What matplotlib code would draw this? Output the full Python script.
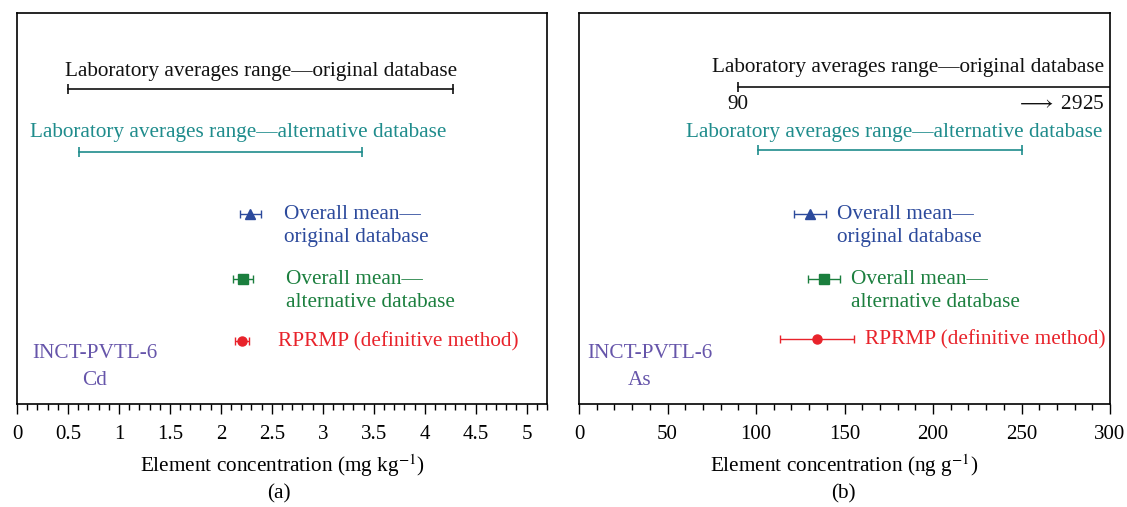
import numpy as np
import matplotlib
matplotlib.use("Agg")
import matplotlib.pyplot as plt
from matplotlib.ticker import MultipleLocator

plt.rcParams['font.family'] = ['Liberation Serif', 'DejaVu Serif']
plt.rcParams['mathtext.fontset'] = 'stix'

# panel (a) Cd, mg/kg
cd_orig_range = [0.50, 4.28]
cd_alt_range = [0.61, 3.38]
cd_mean_orig, cd_mean_orig_err = 2.29, 0.105
cd_mean_alt, cd_mean_alt_err = 2.22, 0.10
cd_rprmp, cd_rprmp_err = 2.21, 0.07

# panel (b) As, ng/g
as_orig_range = [90, 2925]
as_alt_range = [101, 250]
as_mean_orig, as_mean_orig_err = 130.5, 9.0
as_mean_alt, as_mean_alt_err = 138.5, 9.0
as_rprmp, as_rprmp_err = 134.5, 21.0

# row heights (axes runs 0..10)
rows = {"orig": 8.05, "alt": 6.45, "mo": 4.85, "ma": 3.2, "rp": 1.6}

c_black = "#111111"
c_teal = "#1f8c8c"
c_blue = "#2c4a9c"
c_green = "#1b7f3e"
c_red = "#e8232b"
c_purple = "#6655aa"
fs = 15.3

fig = plt.figure(figsize=(11.27, 5.07), dpi=100)
ax1 = fig.add_axes([17/1127, 1-404/507, 530/1127, 391/507])
ax2 = fig.add_axes([579/1127, 1-404/507, 531/1127, 391/507])

for ax in (ax1, ax2):
    ax.set_ylim(0, 10)
    ax.set_yticks([])
    for s in ax.spines.values():
        s.set_linewidth(1.2)
    ax.tick_params(axis='x', which='major', length=7, width=1, labelsize=15, pad=8)
    ax.tick_params(axis='x', which='minor', length=4, width=1)

# ---- panel a
ax1.set_xlim(0, 5.2)
ax1.xaxis.set_minor_locator(MultipleLocator(0.1))
ticks = np.arange(0, 5.01, 0.5)
ax1.set_xticks(ticks)
ax1.set_xticklabels(["%g" % t for t in ticks])

ax1.plot(cd_orig_range, [rows["orig"]]*2, color=c_black, lw=1.2, marker='|', ms=7, mew=1.2)
ax1.text(np.mean(cd_orig_range), rows["orig"]+0.45, "Laboratory averages range—original database",
         color=c_black, fontsize=fs, ha='center', va='center')
ax1.plot(cd_alt_range, [rows["alt"]]*2, color=c_teal, lw=1.2, marker='|', ms=7, mew=1.2)
ax1.text(2.17, rows["alt"]+0.5, "Laboratory averages range—alternative database",
         color=c_teal, fontsize=fs, ha='center', va='center')

ax1.errorbar(cd_mean_orig, rows["mo"], xerr=cd_mean_orig_err, fmt='^', color=c_blue, ms=7, capsize=3, lw=1)
ax1.text(2.62, rows["mo"]-0.3, "Overall mean—\noriginal database", color=c_blue, fontsize=fs,
         ha='left', va='center', linespacing=1.3)
ax1.errorbar(cd_mean_alt, rows["ma"], xerr=cd_mean_alt_err, fmt='s', color=c_green, ms=6.5, capsize=3, lw=1)
ax1.text(2.64, rows["ma"]-0.3, "Overall mean—\nalternative database", color=c_green, fontsize=fs,
         ha='left', va='center', linespacing=1.3)
ax1.errorbar(cd_rprmp, rows["rp"], xerr=cd_rprmp_err, fmt='o', color=c_red, ms=6.5, capsize=3, lw=1)
ax1.text(2.56, rows["rp"], "RPRMP (definitive method)", color=c_red, fontsize=fs, ha='left', va='center')

ax1.text(0.76, 1.28, "INCT-PVTL-6", color=c_purple, fontsize=fs, ha='center', va='center')
ax1.text(0.76, 0.59, "Cd", color=c_purple, fontsize=fs, ha='center', va='center')
ax1.set_xlabel(r"Element concentration (mg kg$^{-1}$)", fontsize=fs, labelpad=6)
fig.text(279/1127, 1-494/507, "(a)", fontsize=fs, ha='center', va='center')

# ---- panel b
ax2.set_xlim(0, 300)
ax2.xaxis.set_major_locator(MultipleLocator(50))
ax2.xaxis.set_minor_locator(MultipleLocator(10))

ax2.plot(as_orig_range, [rows["orig"]+0.05]*2, color=c_black, lw=1.2, marker='|', ms=7, mew=1.2)
ax2.text(186, rows["orig"]+0.55, "Laboratory averages range—original database",
         color=c_black, fontsize=fs, ha='center', va='center')
ax2.text(as_orig_range[0], rows["orig"]-0.4, "%d" % as_orig_range[0], color=c_black, fontsize=fs,
         ha='center', va='center')
ax2.text(297, rows["orig"]-0.4, r"$\longrightarrow$ %d" % as_orig_range[1], color=c_black, fontsize=fs,
         ha='right', va='center')
ax2.plot(as_alt_range, [rows["alt"]+0.05]*2, color=c_teal, lw=1.2, marker='|', ms=7, mew=1.2)
ax2.text(178, rows["alt"]+0.5, "Laboratory averages range—alternative database",
         color=c_teal, fontsize=fs, ha='center', va='center')

ax2.errorbar(as_mean_orig, rows["mo"], xerr=as_mean_orig_err, fmt='^', color=c_blue, ms=7, capsize=3, lw=1)
ax2.text(146, rows["mo"]-0.3, "Overall mean—\noriginal database", color=c_blue, fontsize=fs,
         ha='left', va='center', linespacing=1.3)
ax2.errorbar(as_mean_alt, rows["ma"], xerr=as_mean_alt_err, fmt='s', color=c_green, ms=6.5, capsize=3, lw=1)
ax2.text(153.5, rows["ma"]-0.3, "Overall mean—\nalternative database", color=c_green, fontsize=fs,
         ha='left', va='center', linespacing=1.3)
ax2.errorbar(as_rprmp, rows["rp"]+0.05, xerr=as_rprmp_err, fmt='o', color=c_red, ms=6.5, capsize=3, lw=1)
ax2.text(161.5, rows["rp"]+0.05, "RPRMP (definitive method)", color=c_red, fontsize=fs, ha='left', va='center')

ax2.text(40, 1.28, "INCT-PVTL-6", color=c_purple, fontsize=fs, ha='center', va='center')
ax2.text(34, 0.59, "As", color=c_purple, fontsize=fs, ha='center', va='center')
ax2.set_xlabel(r"Element concentration (ng g$^{-1}$)", fontsize=fs, labelpad=6)
fig.text(843/1127, 1-494/507, "(b)", fontsize=fs, ha='center', va='center')

fig.savefig("out.png", dpi=100)
